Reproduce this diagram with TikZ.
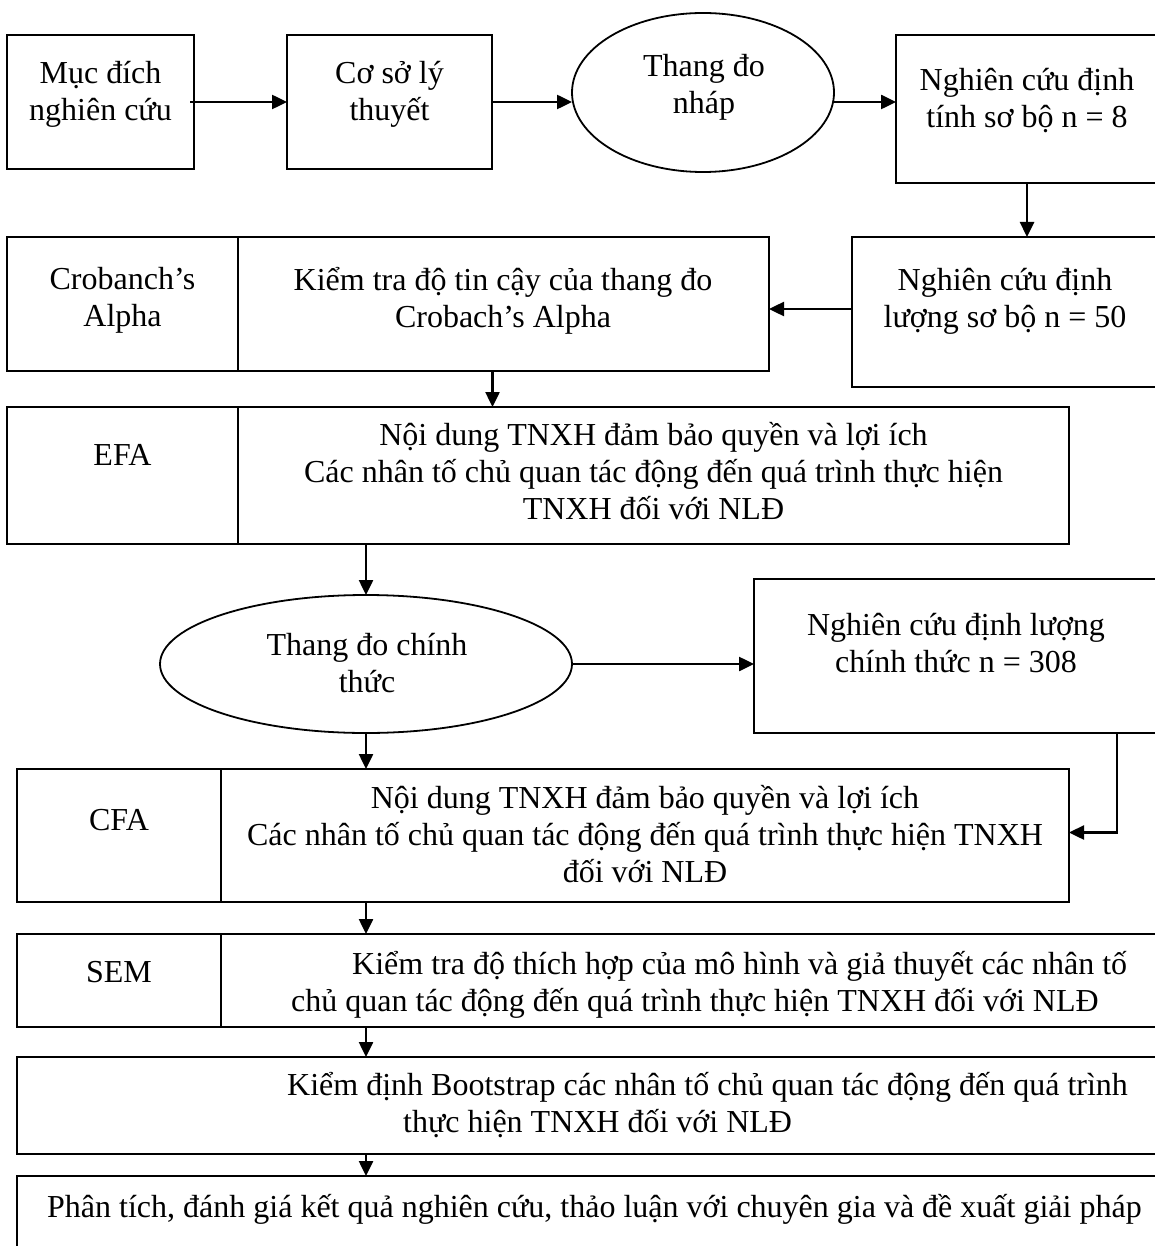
\documentclass[tikz,border=0pt]{standalone}
\usepackage{fontspec}
\setmainfont{Liberation Serif}
\usetikzlibrary{shapes.geometric,arrows.meta}
% strut that fixes the first line: 30pt above the baseline, 7pt below
\newcommand\lnstrut{\rule[-7pt]{0pt}{37pt}}
\begin{document}
\begin{tikzpicture}[x=1pt,y=1pt,
  box/.style={draw, line width=2pt, rectangle, inner sep=0pt, outer sep=0pt, anchor=north west},
  oval/.style={draw, line width=1.8pt, ellipse, inner sep=0pt, outer sep=0pt},
  txt/.style={inner sep=0pt, align=center, anchor=north,
    font=\fontsize{32}{37}\selectfont},
  txtl/.style={inner sep=0pt, align=left, anchor=north west,
    font=\fontsize{32}{37}\selectfont},
  arr/.style={line width=2.5pt, -{Triangle[length=15pt,width=14pt]}},
]
\useasboundingbox (0,0) rectangle (1155,-1246);
\fill[white] (0,0) rectangle (1155,-1246);
\clip (0,0) rectangle (1155,-1246);

% first row
\node[box, minimum width=187, minimum height=134] (muc) at (7,-35) {};
\node[txt] (mucT) at (100.5,-53) {\lnstrut Mục đích\\nghiên cứu};
\node[box, minimum width=205, minimum height=134] (coso) at (287,-35) {};
\node[txt] (cosoT) at (389.5,-53) {\lnstrut Cơ sở lý\\thuyết};
\node[oval, minimum width=262, minimum height=159] (nhap) at (703,-92.5) {};
\node[txt] (nhapT) at (704,-46) {\lnstrut Thang đo\\nháp};
\node[box, minimum width=262, minimum height=148] (dtinh) at (896,-35) {};
\node[txt] (dtinhT) at (1027,-60) {\lnstrut Nghiên cứu định\\tính sơ bộ n = 8};

% second row
\node[box, minimum width=306, minimum height=150] (dluong) at (852,-237) {};
\node[txt] (dluongT) at (1005,-260) {\lnstrut Nghiên cứu định\\lượng sơ bộ n = 50};
\node[box, minimum width=231, minimum height=134] (crob) at (7,-237) {};
\node[txt] (crobT) at (122.5,-259) {\lnstrut Crobanch’s\\Alpha};
\node[box, minimum width=531, minimum height=134] (ktra) at (238,-237) {};
\node[txt] (ktraT) at (503,-260) {\lnstrut Kiểm tra độ tin cậy của thang đo\\Crobach’s Alpha};

% EFA
\node[box, minimum width=231, minimum height=137] (efa) at (7,-407) {};
\node[txt] (efaT) at (122.5,-435) {\lnstrut EFA};
\node[box, minimum width=831, minimum height=137] (efaC) at (238,-407) {};
\node[txt] (efaCT) at (653.5,-415) {\lnstrut Nội dung TNXH đảm bảo quyền và lợi ích\\Các nhân tố chủ quan tác động đến quá trình thực hiện\\TNXH đối với NLĐ};

% official scale and main survey
\node[oval, minimum width=412, minimum height=138] (chinh) at (366,-664) {};
\node[txt] (chinhT) at (367,-625) {\lnstrut Thang đo chính\\thức};
\node[box, minimum width=404, minimum height=154] (ct) at (754,-579) {};
\node[txt] (ctT) at (956,-605) {\lnstrut Nghiên cứu định lượng\\chính thức n = 308};

% CFA
\node[box, minimum width=204, minimum height=133] (cfa) at (17,-769) {};
\node[txt] (cfaT) at (119,-800) {\lnstrut CFA};
\node[box, minimum width=848, minimum height=133] (cfaC) at (221,-769) {};
\node[txt] (cfaCT) at (645,-778) {\lnstrut Nội dung TNXH đảm bảo quyền và lợi ích\\Các nhân tố chủ quan tác động đến quá trình thực hiện TNXH\\đối với NLĐ};

% SEM
\node[box, minimum width=204, minimum height=93] (sem) at (17,-934) {};
\node[txt] (semT) at (119,-952.7) {\lnstrut SEM};
\node[box, minimum width=939, minimum height=93] (semC) at (221,-934) {};
\node[txtl] (semCT) at (291,-944) {\lnstrut\hspace*{61pt}Kiểm tra độ thích hợp của mô hình và giả thuyết các nhân tố\\chủ quan tác động đến quá trình thực hiện TNXH đối với NLĐ};

% Bootstrap
\node[box, minimum width=1143, minimum height=97] (boot) at (17,-1057) {};
\node[txtl] (bootT) at (287,-1065) {\lnstrut Kiểm định Bootstrap các nhân tố chủ quan tác động đến quá trình\\\hspace*{116pt}thực hiện TNXH đối với NLĐ};

% conclusion
\node[box, minimum width=1143, minimum height=90] (final) at (17,-1176) {};
\node[txtl] (finalT) at (47,-1187) {\lnstrut Phân tích, đánh giá kết quả nghiên cứu, thảo luận với chuyên gia và đề xuất giải pháp};

% connectors
\draw[arr] ([xshift=-4pt]muc.east) -- (coso.west);
\draw[arr] (coso.east) -- (coso.east -| nhap.west);
\draw[arr] (coso.east -| nhap.east) -- (coso.east -| dtinh.west);
\draw[arr] (dtinh.south) -- (dtinh.south |- dluong.north);
\draw[arr] ([yshift=3pt]dluong.west) -- ([yshift=3pt]dluong.west -| ktra.east);
\draw[arr] ([xshift=-11pt]ktra.south) -- ([xshift=-11pt]ktra.south |- efaC.north);
\draw[arr] (efaC.south -| chinh.north) -- (chinh.north);
\draw[arr] (chinh.east) -- (chinh.east -| ct.west);
\draw[arr] (chinh.south) -- (chinh.south |- cfaC.north);
\coordinate (fbx) at (1117,0);
\draw[arr] (ct.south -| fbx) |- ([yshift=3pt]cfaC.east);
\draw[arr] (cfaC.south -| chinh.south) -- (semC.north -| chinh.south);
\draw[arr] (semC.south -| chinh.south) -- (boot.north -| chinh.south);
\draw[arr] (boot.south -| chinh.south) -- (final.north -| chinh.south);
\end{tikzpicture}
\end{document}
